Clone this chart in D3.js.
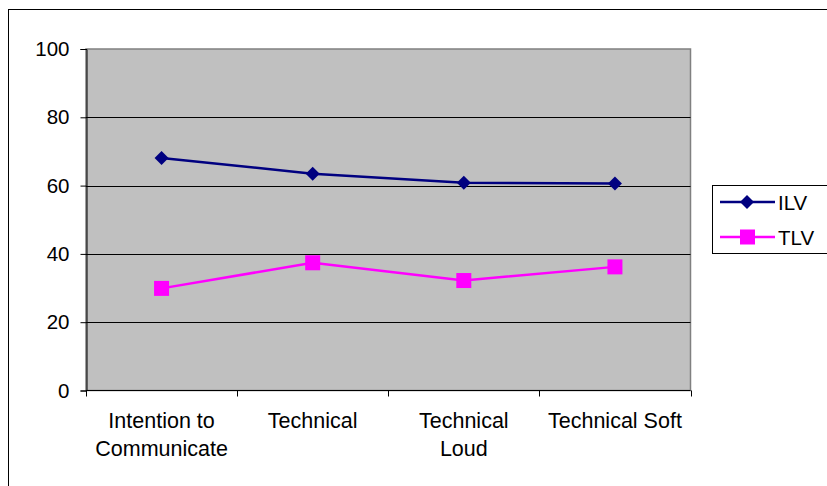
<!DOCTYPE html>
<html><head><meta charset="utf-8">
<script src="https://cdn.jsdelivr.net/npm/d3@7"></script>
<style>body{margin:0;background:#fff}svg{display:block;font-family:"Liberation Sans",Arial,sans-serif}</style>
</head><body>
<svg id="c" width="827" height="486"></svg>
<script>
const categories = [["Intention to","Communicate"],["Technical"],["Technical","Loud"],["Technical Soft"]];
const ilv = [68.1, 63.5, 60.8, 60.6];
const tlv = [29.9, 37.4, 32.2, 36.2];
const yTicks = [0,20,40,60,80,100];
const seriesNames = ["ILV","TLV"];

const svg = d3.select("#c");
const L=86, R=690.5, T=49, B=390.5;
svg.append("rect").attr("x",8.5).attr("y",9.5).attr("width",830).attr("height",490).attr("fill","#fff").attr("stroke","#000").attr("stroke-width",1);
svg.append("rect").attr("x",L).attr("y",T).attr("width",R-L).attr("height",B-T).attr("fill","#C0C0C0").attr("stroke","#808080").attr("stroke-width",1.5);

const x = d3.scaleBand().domain(d3.range(categories.length)).range([L,R]);
const y = d3.scaleLinear().domain([0,100]).range([B,T]);

// gridlines
svg.append("g").selectAll("line").data(yTicks.filter(d=>d>0&&d<100)).join("line")
  .attr("x1",L).attr("x2",R).attr("y1",d=>Math.round(y(d))+0.5).attr("y2",d=>Math.round(y(d))+0.5)
  .attr("stroke","#000").attr("stroke-width",1);

// y axis
const ya = svg.append("g").attr("transform",`translate(${L+0.5},0)`)
  .call(d3.axisLeft(y).tickValues(yTicks).tickSize(6).tickPadding(11));
ya.select(".domain").attr("stroke","#000");
ya.selectAll(".tick line").attr("stroke","#000");
ya.selectAll("text").attr("font-size","20.5px").attr("fill","#000").attr("font-family","Liberation Sans, Arial, sans-serif");

// x axis line and ticks at boundaries
svg.append("line").attr("x1",L).attr("x2",R).attr("y1",B).attr("y2",B).attr("stroke","#000");
const bounds = d3.range(categories.length+1).map(i=> i<categories.length? x(i): x(categories.length-1)+x.bandwidth());
svg.append("g").selectAll("line").data(bounds).join("line")
  .attr("x1",d=>Math.round(d)+0.5).attr("x2",d=>Math.round(d)+0.5).attr("y1",B).attr("y2",B+6).attr("stroke","#000");

// x labels
const xl = svg.append("g");
categories.forEach((lines,i)=>{
  const t = xl.append("text").attr("text-anchor","middle").attr("font-size","21.5px").attr("fill","#000");
  lines.forEach((s,j)=> t.append("tspan").attr("x",x(i)+x.bandwidth()/2).attr("y",428+j*28).text(s));
});

const cx = i => x(i)+x.bandwidth()/2;
const line = d3.line().x((d,i)=>cx(i)).y(d=>y(d));
svg.append("path").datum(ilv).attr("d",line).attr("fill","none").attr("stroke","#000080").attr("stroke-width",2.5);
svg.append("path").datum(tlv).attr("d",line).attr("fill","none").attr("stroke","#FF00FF").attr("stroke-width",2.5);
svg.append("g").selectAll("path").data(ilv).join("path")
  .attr("transform",(d,i)=>`translate(${cx(i)},${y(d)})`)
  .attr("d","M0,-7L7,0L0,7L-7,0Z").attr("fill","#000080");
svg.append("g").selectAll("rect").data(tlv).join("rect")
  .attr("x",(d,i)=>cx(i)-7.5).attr("y",d=>y(d)-7.5).attr("width",15).attr("height",15).attr("fill","#FF00FF");

// legend
const lg = svg.append("g");
lg.append("rect").attr("x",712.5).attr("y",185.5).attr("width",130).attr("height",68).attr("fill","#fff").attr("stroke","#000");
const lcol = ["#000080","#FF00FF"];
seriesNames.forEach((n,i)=>{
  const yy = 202 + i*35;
  lg.append("line").attr("x1",720).attr("x2",775).attr("y1",yy).attr("y2",yy).attr("stroke",lcol[i]).attr("stroke-width",2.5);
  if(i===0) lg.append("path").attr("transform",`translate(747,${yy})`).attr("d","M0,-7L7,0L0,7L-7,0Z").attr("fill",lcol[i]);
  else lg.append("rect").attr("x",740).attr("y",yy-7.5).attr("width",15).attr("height",15).attr("fill",lcol[i]);
  lg.append("text").attr("x",778).attr("y",yy+7.5).attr("font-size","20.5px").attr("fill","#000").text(n);
});
</script>
</body></html>
